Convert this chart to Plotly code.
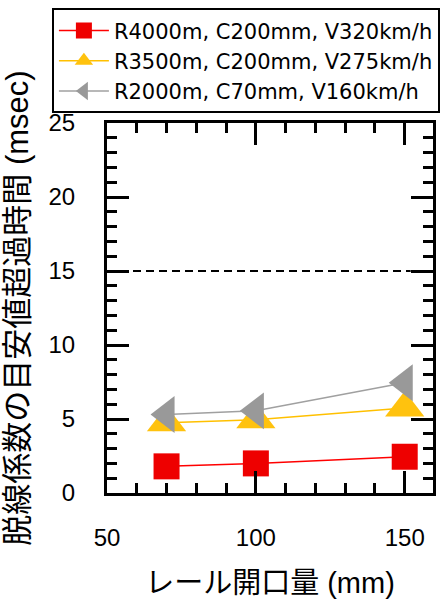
import plotly.graph_objects as go

# Data
rail_gap_mm = [70, 100, 150]
series_names = ["R4000m, C200mm, V320km/h",
                "R3500m, C200mm, V275km/h",
                "R2000m, C70mm, V160km/h"]
r4000 = [1.8, 2.0, 2.45]
r3500 = [4.75, 4.95, 5.75]
r2000 = [5.3, 5.55, 7.45]
threshold = 15
threshold_x = [50, 152]
x_ticks = [50, 100, 150]
y_ticks = [0, 5, 10, 15, 20, 25]

FONT = "Liberation Sans, Noto Sans CJK JP, sans-serif"
LEGEND_FONT = "DejaVu Sans, Liberation Sans, sans-serif"

fig = go.Figure()

styles = [
    dict(line_color="#FF0000", marker=dict(symbol="square", size=26, color="#EE0000")),
    dict(line_color="#FFC000", marker=dict(symbol="triangle-up", size=34, color="#FFC20E")),
    dict(line_color="#A0A0A0", marker=dict(symbol="triangle-left", size=32, color="#999999")),
]
for name, vals, st in zip(series_names, [r4000, r3500, r2000], styles):
    fig.add_trace(go.Scatter(
        x=rail_gap_mm, y=vals, name=name, mode="lines+markers",
        line=dict(color=st["line_color"], width=1.5),
        marker=dict(symbol=st["marker"]["symbol"], size=st["marker"]["size"],
                    color=st["marker"]["color"], line=dict(width=0)),
    ))

fig.add_shape(type="line", x0=threshold_x[0], x1=threshold_x[1], y0=threshold, y1=threshold,
              xref="x", yref="y", line=dict(color="black", width=2, dash="8px,5px"))

axis_common = dict(
    showline=True, linecolor="black", linewidth=3, mirror="allticks",
    ticks="inside", ticklen=22, tickwidth=2.5, tickcolor="black",
    showgrid=False, zeroline=False, automargin=False,
    tickfont=dict(family=FONT, size=24, color="black"),
)

fig.update_xaxes(
    **axis_common, range=[50, 159.5], tickvals=x_ticks,
    minor=dict(ticks="inside", ticklen=10, tickwidth=2.5, tickcolor="black", dtick=10, showgrid=False),
    ticklabelstandoff=21,
    title=dict(text="レール開口量 (mm)", font=dict(family=FONT, size=29, color="black"), standoff=23),
)
fig.update_yaxes(
    **axis_common, range=[0, 25], tickvals=y_ticks,
    minor=dict(ticks="inside", ticklen=10, tickwidth=2.5, tickcolor="black", dtick=1, showgrid=False),
    ticklabelstandoff=24,
    title=dict(text="脱線係数の目安値超過時間 (msec)", font=dict(family=FONT, size=31, color="black"), standoff=11),
)

fig.update_layout(
    width=440, height=604,
    margin=dict(l=107, r=7, t=123, b=111, autoexpand=False),
    plot_bgcolor="white", paper_bgcolor="white",
    font=dict(family=FONT, color="black"),
    showlegend=True,
    legend=dict(
        x=-0.169, xanchor="left", y=1.31, yanchor="top",
        bgcolor="white", bordercolor="black", borderwidth=2,
        font=dict(family=LEGEND_FONT, size=21, color="black"),
        itemwidth=50, tracegroupgap=0,
    ),
)

fig.write_html("out.html", config={"displayModeBar": False},
               post_script="document.body.style.margin='0px';")
